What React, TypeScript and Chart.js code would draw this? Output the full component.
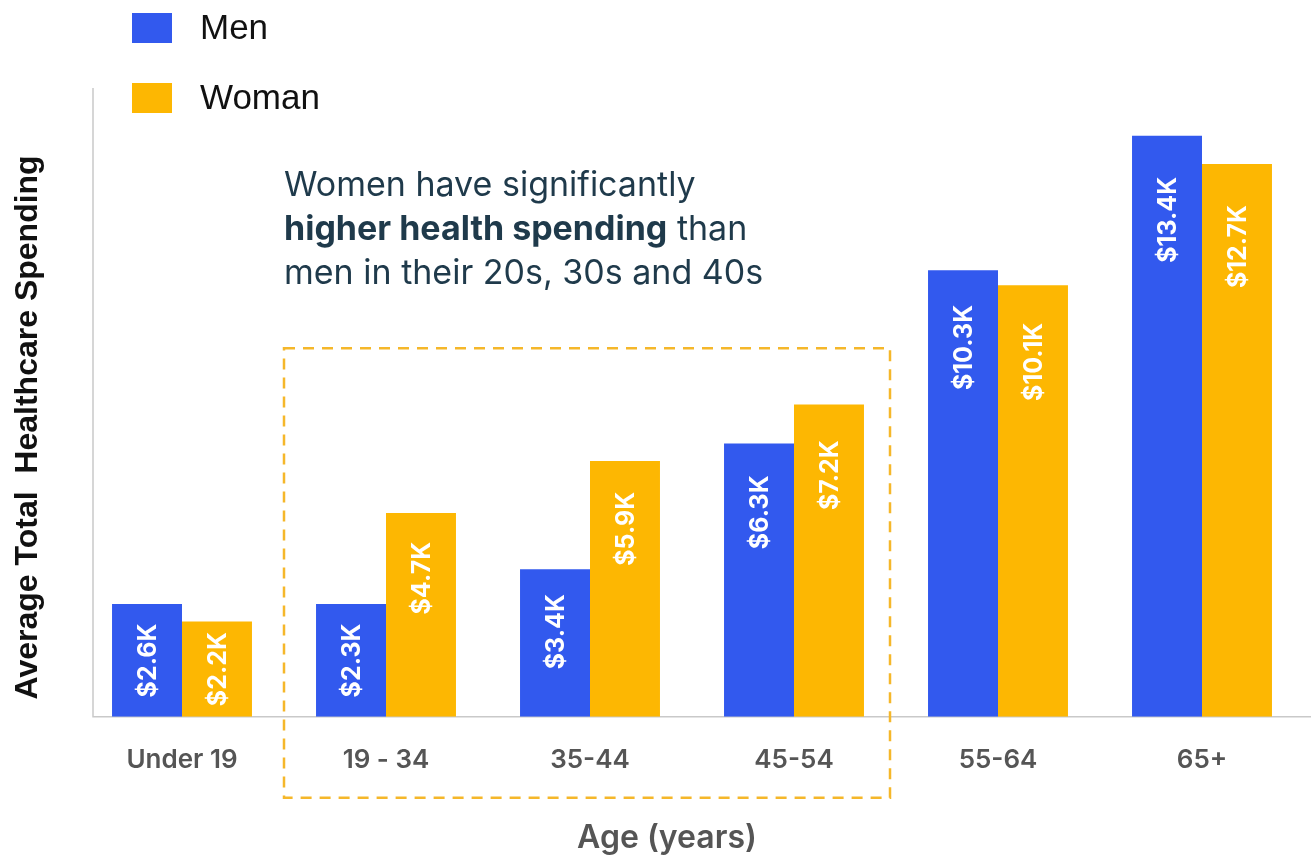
import React, { useEffect, useRef } from "react";
import { Chart, registerables } from "chart.js";

Chart.register(...registerables);

// ---- data ----
const categories = ["Under 19", "19 - 34", "35-44", "45-54", "55-64", "65+"];
const seriesNames = ["Men", "Woman"];
const menValues = [2.6, 2.6, 3.4, 6.3, 10.3, 13.4];
const womenValues = [2.2, 4.7, 5.9, 7.2, 9.95, 12.75];
const menLabels = ["$2.6K", "$2.3K", "$3.4K", "$6.3K", "$10.3K", "$13.4K"];
const womenLabels = ["$2.2K", "$4.7K", "$5.9K", "$7.2K", "$10.1K", "$12.7K"];
const yAxisMax = 14.5;
const xAxisTitle = "Age (years)";
const yAxisTitle = "Average Total  Healthcare Spending";
const noteLine1 = "Women have significantly";
const noteLine2Bold = "higher health spending";
const noteLine2Rest = " than";
const noteLine3 = "men in their 20s, 30s and 40s";
const highlightFrom = 1;
const highlightTo = 3;
const highlightTopValue = 8.5;
const noteBaselineValue = 12.0;

const BLUE = "#3259EE";
const YELLOW = "#FDB702";
const seriesColors = [BLUE, YELLOW];
const allLabels = [menLabels, womenLabels];

const decorPlugin = {
  id: "decor",
  beforeDatasetsDraw(chart: any) {
    const { ctx, chartArea } = chart;
    ctx.save();
    ctx.strokeStyle = "#c9c9c9";
    ctx.lineWidth = 1.5;
    const ax = chartArea.left + 13;
    ctx.beginPath();
    ctx.moveTo(ax, chartArea.top);
    ctx.lineTo(ax, chartArea.bottom);
    ctx.lineTo(chart.width, chartArea.bottom);
    ctx.stroke();
    ctx.restore();
  },
  afterDatasetsDraw(chart: any) {
    const { ctx, chartArea } = chart;
    const xs = chart.scales.x;
    const ys = chart.scales.y;

    // bar value labels
    ctx.save();
    ctx.fillStyle = "#ffffff";
    ctx.font = "700 25px Inter";
    ctx.textAlign = "center";
    ctx.textBaseline = "middle";
    chart.data.datasets.forEach((_: any, i: number) => {
      const meta = chart.getDatasetMeta(i);
      meta.data.forEach((bar: any, j: number) => {
        const h = bar.base - bar.y;
        const off = Math.min(h / 2, 55 + 0.05 * h);
        ctx.save();
        ctx.translate(bar.x, bar.y + off);
        ctx.rotate(-Math.PI / 2);
        ctx.fillText(allLabels[i][j], 0, 1);
        ctx.restore();
      });
    });
    ctx.restore();

    // dashed highlight box
    const catW = xs.getPixelForValue(1) - xs.getPixelForValue(0);
    const left = xs.getPixelForValue(highlightFrom) - catW / 2;
    const right = xs.getPixelForValue(highlightTo) + catW / 2 - 6;
    const top = ys.getPixelForValue(highlightTopValue);
    const bottom = chartArea.bottom + 81;
    ctx.save();
    ctx.strokeStyle = "#F5B72A";
    ctx.lineWidth = 2.5;
    ctx.setLineDash([11, 8]);
    ctx.strokeRect(left, top, right - left, bottom - top);
    ctx.restore();

    // annotation
    ctx.save();
    ctx.fillStyle = "#1f3a4b";
    ctx.textAlign = "left";
    ctx.textBaseline = "alphabetic";
    const b1 = ys.getPixelForValue(noteBaselineValue);
    const lh = 44;
    ctx.font = "400 34px Inter";
    ctx.fillText(noteLine1, left, b1);
    ctx.font = "700 34px Inter";
    ctx.fillText(noteLine2Bold, left, b1 + lh);
    const wb = ctx.measureText(noteLine2Bold).width;
    ctx.font = "400 34px Inter";
    ctx.fillText(noteLine2Rest, left + wb, b1 + lh);
    ctx.fillText(noteLine3, left, b1 + 2 * lh);
    ctx.restore();

    // x axis title
    ctx.save();
    ctx.fillStyle = "#555555";
    ctx.font = "600 32px Inter";
    ctx.textAlign = "center";
    ctx.textBaseline = "middle";
    ctx.fillText(xAxisTitle, (chartArea.left + chartArea.right) / 2 - 25, chartArea.bottom + 122);
    ctx.restore();

    // legend
    ctx.save();
    seriesNames.forEach((name, i) => {
      const y = 13 + i * 70;
      ctx.fillStyle = seriesColors[i];
      ctx.fillRect(132, y, 40, 30);
      ctx.fillStyle = "#111111";
      ctx.font = "400 35px 'Liberation Sans'";
      ctx.textBaseline = "middle";
      ctx.textAlign = "left";
      ctx.fillText(name, 200, y + 16);
    });
    ctx.restore();

    // y axis title
    ctx.save();
    ctx.translate(28, (chartArea.top + chartArea.bottom) / 2 + 25);
    ctx.rotate(-Math.PI / 2);
    ctx.fillStyle = "#111111";
    ctx.font = "700 32px 'Liberation Sans'";
    ctx.textAlign = "center";
    ctx.textBaseline = "middle";
    ctx.fillText(yAxisTitle, 0, 0);
    ctx.restore();
  },
};

export default function App() {
  const ref = useRef<HTMLCanvasElement | null>(null);
  useEffect(() => {
    if (!ref.current) return;
    Chart.defaults.font.family = "Inter";
    const chart = new Chart(ref.current, {
      type: "bar",
      data: {
        labels: categories,
        datasets: [
          {
            label: seriesNames[0],
            data: menValues,
            backgroundColor: BLUE,
            borderWidth: 0,
            categoryPercentage: 0.686,
            barPercentage: 1.0,
          },
          {
            label: seriesNames[1],
            data: womenValues,
            backgroundColor: YELLOW,
            borderWidth: 0,
            categoryPercentage: 0.686,
            barPercentage: 1.0,
          },
        ],
      },
      options: {
        responsive: false,
        animation: false,
        devicePixelRatio: 1,
        layout: { padding: { left: 80, right: 7, top: 88, bottom: 57 } },
        plugins: { legend: { display: false }, tooltip: { enabled: false } },
        scales: {
          x: {
            grid: { display: false, drawTicks: false },
            border: { display: false },
            ticks: {
              color: "#555555",
              font: { family: "Inter", size: 26, weight: "600" },
              padding: 28,
            },
            title: { display: false },
          },
          y: { display: false, min: 0, max: yAxisMax },
        },
      },
      plugins: [decorPlugin],
    } as any);
    return () => chart.destroy();
  }, []);
  return (
    <div style={{ position: "absolute", left: 0, top: 0, width: 1311, height: 861, background: "#fff" }}>
      <canvas ref={ref} width={1311} height={861} style={{ display: "block" }} />
    </div>
  );
}
